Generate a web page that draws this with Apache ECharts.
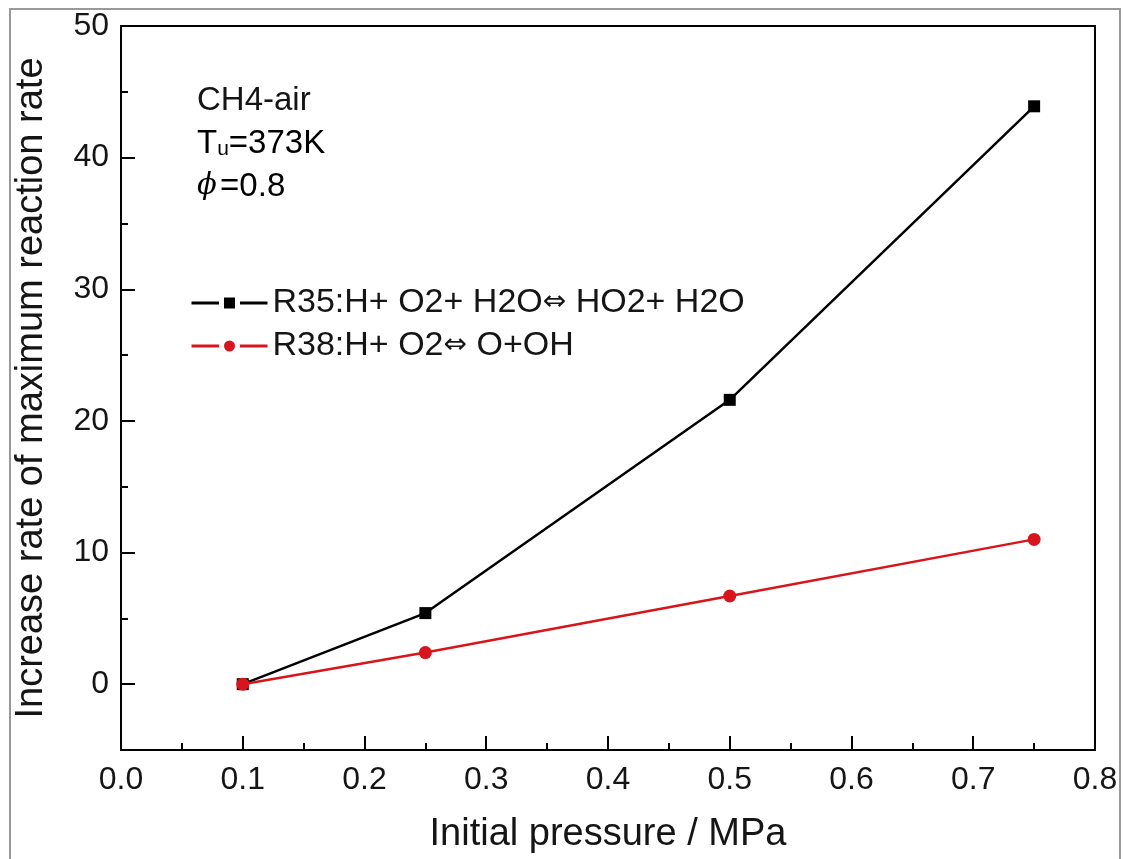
<!DOCTYPE html>
<html>
<head>
<meta charset="utf-8">
<script src="https://cdn.jsdelivr.net/npm/echarts@6/dist/echarts.min.js"></script>
<style>html,body{margin:0;padding:0;background:#fff}#c{width:1123px;height:859px}</style>
</head>
<body>
<div id="c"></div>
<script>
const pressure = [0.1, 0.25, 0.5, 0.75];
const r35 = [0, 5.4, 21.6, 43.9];
const r38 = [0, 2.4, 6.7, 11.0];
const yTicks = [0, 10, 20, 30, 40, 50];
const seriesNames = ['R35:H+ O2+ H2O\u21D4 HO2+ H2O', 'R38:H+ O2\u21D4 O+OH'];
const xTitle = 'Initial pressure / MPa';
const yTitle = 'Increase rate of maximum reaction rate';

const FONT = '"Liberation Sans", Arial, sans-serif';
const TXT = '#151515';
const chart = echarts.init(document.getElementById('c'), null, {renderer: 'canvas'});
chart.setOption({
  animation: false,
  backgroundColor: '#fff',
  grid: {left: 121, right: 28, top: 26, bottom: 109, show: true, borderColor: '#000', borderWidth: 2, containLabel: false},
  xAxis: {
    type: 'value', min: 0, max: 0.8, interval: 0.1,
    name: xTitle, nameLocation: 'middle', nameGap: 66,
    nameTextStyle: {fontFamily: FONT, fontSize: 38, color: TXT},
    axisLine: {show: true, onZero: false, lineStyle: {color: '#000', width: 2}},
    splitLine: {show: false},
    axisTick: {show: true, inside: true, length: 14, lineStyle: {color: '#000', width: 2}},
    minorTick: {show: true, splitNumber: 2, length: 7, lineStyle: {color: '#000', width: 2}},
    axisLabel: {fontFamily: FONT, fontSize: 32, color: TXT, margin: 14, formatter: v => v.toFixed(1)}
  },
  yAxis: [
    {
      type: 'value', min: -5, max: 50,
      name: yTitle, nameLocation: 'middle', nameGap: 70,
      nameTextStyle: {fontFamily: FONT, fontSize: 38, color: TXT},
      axisLine: {show: true, onZero: false, lineStyle: {color: '#000', width: 2}},
      splitLine: {show: false},
      axisTick: {show: true, inside: true, length: 14, customValues: yTicks, lineStyle: {color: '#000', width: 2}},
      axisLabel: {fontFamily: FONT, fontSize: 32, color: TXT, margin: 12, customValues: yTicks}
    },
    {
      type: 'value', min: -5, max: 50, interval: 5, position: 'left',
      axisLine: {show: false, onZero: false}, splitLine: {show: false}, axisLabel: {show: false},
      axisTick: {show: true, inside: true, length: 7, lineStyle: {color: '#000', width: 2}}
    }
  ],
  legend: {
    orient: 'vertical', left: 185, top: 281,
    itemWidth: 76, itemHeight: 20, itemGap: 9,
    itemStyle: {borderColor: '#fff', borderWidth: 5},
    lineStyle: {width: 3},
    textStyle: {
      fontFamily: FONT, fontSize: 34, color: TXT,
      rich: {
        t: {fontFamily: FONT, fontSize: 34, color: TXT},
        ar: {fontFamily: '"DejaVu Sans"', fontSize: 28, color: TXT}
      }
    },
    formatter: name => {
      const parts = name.split('\u21D4');
      return '{t|' + parts[0] + '}{ar|\u21D4}{t|' + parts[1] + '}';
    },
    data: seriesNames
  },
  series: [
    {
      name: seriesNames[0], type: 'line', yAxisIndex: 0,
      data: pressure.map((x, i) => [x, r35[i]]),
      symbol: 'rect', symbolSize: 12,
      lineStyle: {color: '#000', width: 2.5}, itemStyle: {color: '#000'}
    },
    {
      name: seriesNames[1], type: 'line', yAxisIndex: 0,
      data: pressure.map((x, i) => [x, r38[i]]),
      symbol: 'circle', symbolSize: 13,
      lineStyle: {color: '#d8141c', width: 2.5}, itemStyle: {color: '#d8141c'}
    }
  ],
  graphic: [
    {type: 'rect', shape: {x: 10, y: 9, width: 1110, height: 870}, style: {fill: 'none', stroke: '#999', lineWidth: 2}, silent: true},
    {type: 'text', left: 197, top: 84, style: {text: 'CH4-air', font: '33px "Liberation Sans", Arial', fill: TXT}},
    {type: 'text', left: 197, top: 127, style: {
      text: '{a|T}{b|u}{a|=373K}',
      rich: {a: {fontFamily: FONT, fontSize: 33, color: TXT}, b: {fontFamily: FONT, fontSize: 21, color: TXT, padding: [12, 0, 0, 0]}}
    }},
    {type: 'text', left: 197, top: 170, style: {
      text: '{p|\u03D5} {a|=0.8}',
      rich: {p: {fontFamily: 'DejaVu Serif', fontStyle: 'italic', fontSize: 29, color: TXT}, a: {fontFamily: FONT, fontSize: 33, color: TXT}}
    }}
  ]
});
</script>
</body>
</html>
